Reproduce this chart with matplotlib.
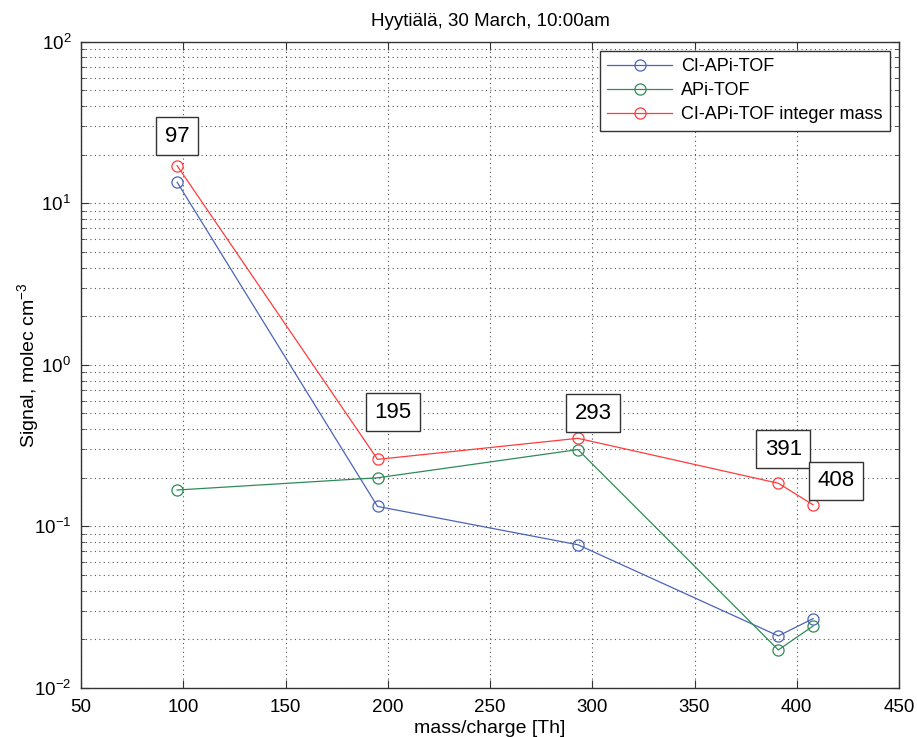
import matplotlib
matplotlib.use("Agg")
import matplotlib.pyplot as plt
from matplotlib.ticker import LogLocator, NullFormatter, MultipleLocator

plt.rcParams['font.family'] = ['Liberation Sans', 'DejaVu Sans']
plt.rcParams['mathtext.fontset'] = 'custom'
plt.rcParams['mathtext.rm'] = 'Liberation Sans'
plt.rcParams['mathtext.it'] = 'Liberation Sans:italic'

# Data
mass = [97, 195, 293, 391, 408]
ci_apitof = [13.5, 0.133, 0.077, 0.021, 0.0269]
apitof = [0.168, 0.20, 0.299, 0.0172, 0.0242]
ci_apitof_int = [17.1, 0.26, 0.351, 0.185, 0.136]
peak_labels = ['97', '195', '293', '391', '408']

title = 'Hyytiälä, 30 March, 10:00am'
xlabel = 'mass/charge [Th]'
ylabel = 'Signal, molec cm$^{-3}$'

# label offsets (pixels) relative to red points
label_offsets = [(0, 29.5), (15, 47), (15, 25), (5, 34), (23, 24)]

fig = plt.figure(figsize=(9.17, 7.37), dpi=100)
ax = fig.add_axes([81/917, 1 - 688/737, (899 - 81)/917, (688 - 41.7)/737])

c_blue = '#4a64b8'
c_green = '#2e8b57'
c_red = '#ff3b3b'

ax.plot(mass, ci_apitof, '-o', color=c_blue, mfc='none', ms=8, lw=0.9, mew=0.9, label='CI-APi-TOF')
ax.plot(mass, apitof, '-o', color=c_green, mfc='none', ms=8, lw=0.9, mew=0.9, label='APi-TOF')
ax.plot(mass, ci_apitof_int, '-o', color=c_red, mfc='none', ms=8, lw=0.9, mew=0.9, label='CI-APi-TOF integer mass')

for xv, yv, lab, off in zip(mass, ci_apitof_int, peak_labels, label_offsets):
    ax.annotate(lab, xy=(xv, yv), xytext=off, textcoords='offset pixels',
                ha='center', va='center', fontsize=16,
                bbox=dict(boxstyle='square,pad=0.38', fc='white', ec='#333333', lw=1))

ax.set_yscale('log')
ax.set_xlim(50, 450)
ax.set_ylim(1e-2, 1e2)
ax.xaxis.set_major_locator(MultipleLocator(50))
ax.yaxis.set_major_locator(LogLocator(base=10, numticks=10))
ax.yaxis.set_minor_locator(LogLocator(base=10, subs=range(2, 10), numticks=20))
ax.yaxis.set_minor_formatter(NullFormatter())

ax.grid(True, which='major', axis='both', linestyle=(0, (1, 3)), color='#555555', lw=0.8)
ax.grid(True, which='minor', axis='y', linestyle=(0, (1, 3)), color='#555555', lw=0.8)

ax.tick_params(which='both', direction='in', top=True, right=True, labelsize=13.5, color='#333333')
ax.tick_params(which='major', length=6)
ax.tick_params(which='minor', length=3)
ax.tick_params(axis='x', pad=8)
ax.tick_params(axis='y', pad=7)
for s in ax.spines.values():
    s.set_color('#333333')
    s.set_linewidth(1)

ax.set_title(title, fontsize=13.5, pad=11)
ax.set_xlabel(xlabel, fontsize=14, labelpad=3)
ax.set_ylabel(ylabel, fontsize=14, labelpad=-5)

leg = ax.legend(loc='upper right', fontsize=13, handlelength=3.6, fancybox=False,
                edgecolor='#333333', framealpha=1, borderaxespad=0.5,
                labelspacing=0.4, borderpad=0.4, handletextpad=0.5,
                bbox_to_anchor=(1.0, 1.0))
leg.get_frame().set_linewidth(1)

fig.savefig('out.png', dpi=100)
